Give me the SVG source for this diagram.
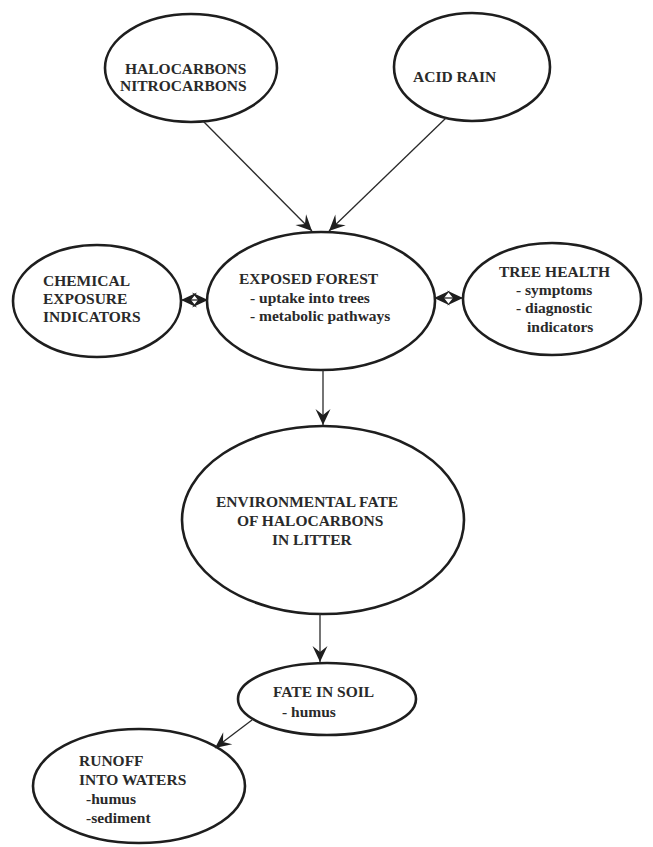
<svg xmlns="http://www.w3.org/2000/svg" width="653" height="847" viewBox="0 0 653 847">
<style>
.n ellipse{fill:#fff;stroke:#1e1e1e;stroke-width:2.6}
.n text{font-family:"Liberation Serif","Times New Roman",serif;font-weight:bold;font-size:15.5px;fill:#2a2a2a}
.c line{stroke:#2a2a2a;stroke-width:1.3;fill:none}
</style>
<defs>
<marker id="ah" viewBox="-17 -9 18 18" refX="0" refY="0" markerWidth="18" markerHeight="18" markerUnits="userSpaceOnUse" orient="auto-start-reverse">
<path d="M0,0 L-16,-7.5 L-10,0 L-16,7.5 Z" fill="#1e1e1e"/>
</marker>
</defs>
<rect width="653" height="847" fill="#fff"/>
<g class="n" id="halocarbons">
<ellipse cx="191" cy="68" rx="86" ry="54"/>
<text x="125" y="74">HALOCARBONS</text>
<text x="120" y="91">NITROCARBONS</text>
</g>
<g class="n" id="acid-rain">
<ellipse cx="472" cy="67" rx="78" ry="54"/>
<text x="413" y="82">ACID RAIN</text>
</g>
<g class="n" id="chemical">
<ellipse cx="97" cy="301" rx="84" ry="56"/>
<text x="43" y="286">CHEMICAL</text>
<text x="43" y="304">EXPOSURE</text>
<text x="43" y="322">INDICATORS</text>
</g>
<g class="n" id="exposed-forest">
<ellipse cx="321" cy="301" rx="114" ry="69"/>
<text x="239" y="284">EXPOSED FOREST</text>
<text x="250" y="303">- uptake into trees</text>
<text x="250" y="321">- metabolic pathways</text>
</g>
<g class="n" id="tree-health">
<ellipse cx="552" cy="299" rx="89" ry="56"/>
<text x="499" y="277">TREE HEALTH</text>
<text x="516" y="295">- symptoms</text>
<text x="516" y="313">- diagnostic</text>
<text x="527" y="332">indicators</text>
</g>
<g class="n" id="environmental-fate">
<ellipse cx="323" cy="520" rx="141" ry="94"/>
<text x="216" y="507">ENVIRONMENTAL FATE</text>
<text x="237" y="526">OF HALOCARBONS</text>
<text x="272" y="545">IN LITTER</text>
</g>
<g class="n" id="fate-in-soil">
<ellipse cx="327" cy="699" rx="89" ry="36"/>
<text x="273" y="697">FATE IN SOIL</text>
<text x="282" y="717">- humus</text>
</g>
<g class="n" id="runoff">
<ellipse cx="139" cy="786" rx="106" ry="57"/>
<text x="79" y="766">RUNOFF</text>
<text x="79" y="785">INTO WATERS</text>
<text x="86" y="804">-humus</text>
<text x="86" y="823">-sediment</text>
</g>
<g class="c" id="connectors">
<line x1="203" y1="121" x2="312" y2="231" marker-end="url(#ah)"/>
<line x1="446" y1="118" x2="329" y2="231" marker-end="url(#ah)"/>
<line x1="323" y1="370" x2="323" y2="425" marker-end="url(#ah)"/>
<line x1="320" y1="613" x2="320" y2="662" marker-end="url(#ah)"/>
<line x1="252" y1="720" x2="215" y2="748" marker-end="url(#ah)"/>
<line x1="181" y1="300" x2="208" y2="300" marker-start="url(#ah)" marker-end="url(#ah)"/>
<line x1="434" y1="298" x2="463" y2="298" marker-start="url(#ah)" marker-end="url(#ah)"/>
</g>
</svg>
